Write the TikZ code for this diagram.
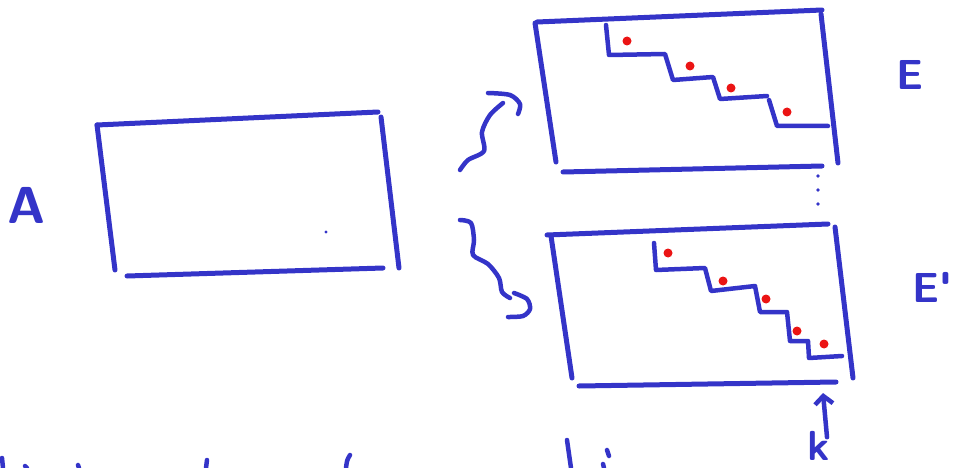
\documentclass[tikz,border=0pt]{standalone}
\usetikzlibrary{arrows.meta}
\definecolor{penblue}{RGB}{52,52,200}
\definecolor{dotred}{RGB}{235,20,20}
\tikzset{
  pen/.style={draw=penblue, line width=5pt, line cap=round, line join=round},
  thinpen/.style={draw=penblue, line width=4.5pt, line cap=round, line join=round},
  hand/.style={text=penblue, font=\sffamily\bfseries\fontsize{42}{42}\selectfont, inner sep=0pt}
}
\begin{document}
\begin{tikzpicture}[x=1pt,y=-1pt]
        \useasboundingbox (0,0) rectangle (963,468);
        % Matrix A
        \draw[pen] (97,125) -- (378,112);
        \draw[pen] (97,125) -- (115,270);
        \draw[pen] (381,117) -- (399,268);
        \draw[pen] (127,276) -- (383,268);
        \fill[penblue] (326,232) circle (1.6pt);
        \node[hand, font=\sffamily\bfseries\fontsize{52}{52}\selectfont] (A) at (27,205) {A};
        % Echelon form E
        \draw[pen] (537,22) -- (822,10);
        \draw[pen] (535,23) -- (556,162);
        \draw[pen] (821,14) -- (838,163);
        \draw[pen] (563,172) -- (822,166);
        \draw[thinpen] (606,25) -- (609,55) -- (665,54) -- (673,80) -- (713,77)
                       -- (720,99) -- (767,96);
        \draw[thinpen] (769,100) -- (777,126) -- (828,126);
        \foreach \p in {(627,41),(690,66),(731,88),(787,112)} {
            \fill[dotred] \p circle (4.5pt);
        }
        \node[hand] (E) at (910,75) {E};
        % vertical dots
        \foreach \y in {176,190,204} {
            \fill[penblue] (818,\y) circle (1.8pt);
        }
        % Echelon form E'
        \draw[pen] (547,235) -- (828,224);
        \draw[pen] (551,236) -- (572,378);
        \draw[pen] (835,227) -- (853,378);
        \draw[pen] (579,386) -- (836,382);
        \draw[thinpen] (654,243) -- (656,270) -- (705,268) -- (711,291) -- (755,286)
                       -- (760,312) -- (787,312) -- (790,341) -- (808,341)
                       -- (809,358) -- (842,356);
        \foreach \p in {(668,253),(723,281),(766,299),(797,331),(824,344)} {
            \fill[dotred] \p circle (4.5pt);
        }
        \node[hand] (Ep) at (932,287) {E\textquotesingle};
        % squiggly arrows
        \draw[thinpen] plot[smooth] coordinates
            {(460,170) (468,160) (484,151) (482,132) (490,115) (503,103)};
        \draw[thinpen] plot[smooth] coordinates
            {(488,93) (510,95) (520,104) (518,114)};
        \draw[thinpen] plot[smooth] coordinates
            {(460,220) (471,223) (474,240) (473,255) (488,264) (499,278) (502,292) (510,298)};
        \draw[thinpen] plot[smooth] coordinates
            {(514,293) (527,299) (530,309) (523,316) (508,317)};
        % k with arrow
        \node[hand] (k) at (819,446) {k};
        \coordinate (ktip) at (823,393);
        \draw[thinpen, -{Straight Barb[length=8pt,width=18pt]}] ([xshift=8pt,yshift=-6pt]k.north) -- (ktip);
        % cut off writing at the bottom
        \draw[thinpen] (2,458) -- (3,468);
        \draw[thinpen] (25,466) -- (27,468);
        \draw[thinpen] (78,465) -- (79,468);
        \draw[thinpen] (207,460) -- (206,468);
        \draw[thinpen] (350,455) .. controls (347,460) .. (346,468);
        \draw[thinpen] (567,440) -- (571,468);
        \draw[thinpen] (607,450) -- (609,456);
        \draw[thinpen] (603,464) -- (604,468);
    \end{tikzpicture}
\end{document}
